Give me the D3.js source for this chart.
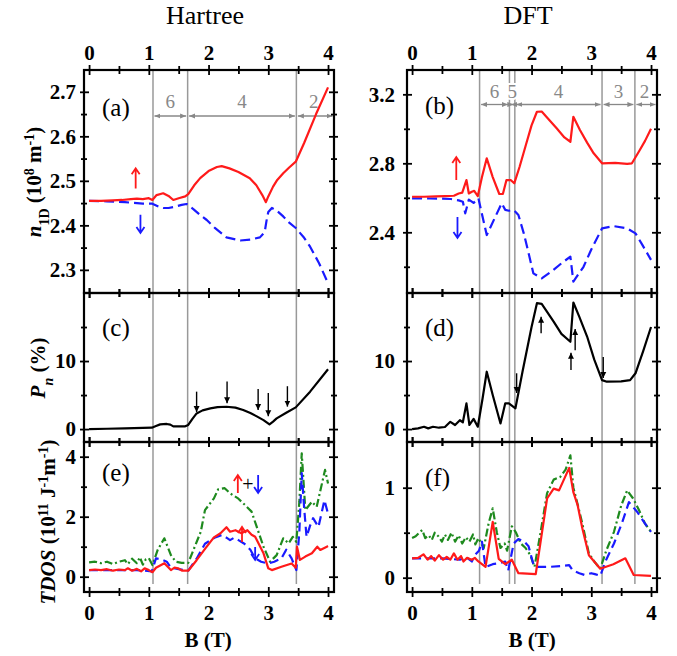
<!DOCTYPE html>
<html>
<head>
<meta charset="utf-8">
<script src="https://cdn.jsdelivr.net/npm/d3@7/dist/d3.min.js"></script>
<style>
  body { margin: 0; background: #fff; }
  text { font-family: "Liberation Serif", "Times New Roman", serif !important; }
</style>
</head>
<body>
<svg id="chart" width="677" height="656"></svg>
<script>
// ---- data (B in tesla, value) ----
const aUp = [[0,2.455],[0.2,2.455],[0.4,2.456],[0.55,2.457],[0.7,2.459],[0.8,2.46],[0.9,2.459],[1.0,2.461],[1.06,2.457],[1.13,2.468],[1.24,2.472],[1.33,2.466],[1.41,2.457],[1.5,2.461],[1.61,2.465],[1.66,2.47],[1.76,2.49],[1.86,2.506],[2.0,2.522],[2.14,2.531],[2.22,2.533],[2.35,2.528],[2.5,2.52],[2.69,2.506],[2.8,2.49],[2.9,2.468],[2.96,2.452],[3.0,2.465],[3.08,2.487],[3.15,2.502],[3.25,2.517],[3.35,2.53],[3.46,2.543],[3.6,2.585],[3.8,2.65],[4.0,2.71]];
const aDown = [[0,2.455],[0.3,2.454],[0.6,2.452],[0.9,2.449],[1.05,2.449],[1.15,2.443],[1.24,2.439],[1.33,2.439],[1.41,2.441],[1.55,2.446],[1.63,2.448],[1.75,2.436],[1.87,2.422],[1.97,2.412],[2.1,2.395],[2.3,2.373],[2.53,2.366],[2.7,2.368],[2.86,2.373],[2.94,2.385],[2.97,2.41],[3.0,2.43],[3.06,2.439],[3.15,2.432],[3.25,2.42],[3.35,2.406],[3.46,2.394],[3.6,2.372],[3.7,2.352],[3.85,2.315],[4.0,2.27]];
const cPol = [[0,0],[0.3,0.05],[0.6,0.1],[0.9,0.18],[1.05,0.2],[1.12,0.45],[1.19,0.69],[1.3,0.75],[1.36,0.65],[1.41,0.4],[1.5,0.4],[1.61,0.4],[1.66,0.6],[1.73,1.5],[1.8,2.3],[1.9,2.75],[2.03,3.04],[2.15,3.22],[2.3,3.28],[2.45,3.15],[2.58,2.8],[2.7,2.35],[2.8,1.9],[2.92,1.32],[3.02,0.69],[3.08,1.1],[3.14,1.57],[3.3,2.4],[3.46,3.19],[3.7,5.5],[4.0,8.8]];
const eUp = [[0,0.22],[0.1,0.24],[0.2,0.22],[0.3,0.25],[0.4,0.2],[0.5,0.24],[0.6,0.22],[0.65,0.28],[0.72,0.2],[0.8,0.26],[0.87,0.18],[0.93,0.28],[1.0,0.22],[1.06,0.15],[1.12,0.3],[1.26,0.45],[1.37,0.22],[1.43,0.3],[1.49,0.28],[1.56,0.2],[1.66,0.2],[1.8,0.55],[1.95,0.95],[2.09,1.31],[2.2,1.45],[2.3,1.65],[2.36,1.5],[2.45,1.55],[2.55,1.45],[2.65,1.55],[2.72,1.4],[2.78,1.33],[2.92,0.78],[3.0,0.28],[3.06,0.22],[3.22,0.33],[3.39,0.44],[3.46,0.3],[3.48,1.0],[3.53,0.56],[3.62,0.67],[3.73,0.78],[3.82,1.0],[3.87,0.89],[3.98,1.0],[4.0,1.02]];
const eDown = [[0,0.22],[0.4,0.22],[0.8,0.22],[1.05,0.18],[1.12,0.61],[1.2,0.58],[1.3,0.5],[1.37,0.3],[1.5,0.25],[1.66,0.2],[1.8,0.6],[1.94,1.1],[2.1,1.3],[2.22,1.39],[2.3,1.3],[2.36,1.22],[2.43,1.3],[2.5,1.22],[2.6,1.1],[2.7,0.9],[2.78,0.61],[2.88,0.5],[3.0,0.44],[3.1,0.5],[3.22,0.61],[3.3,0.9],[3.39,0.61],[3.47,0.22],[3.52,1.5],[3.56,3.45],[3.6,2.3],[3.64,1.33],[3.7,1.7],[3.75,1.95],[3.84,1.66],[3.94,2.55],[4.0,2.1]];
const eSum = [[0,0.48],[0.1,0.5],[0.2,0.45],[0.3,0.5],[0.4,0.42],[0.5,0.5],[0.6,0.55],[0.65,0.42],[0.72,0.6],[0.8,0.45],[0.85,0.65],[0.9,0.4],[0.95,0.58],[1.0,0.62],[1.06,0.39],[1.15,0.9],[1.26,1.28],[1.37,0.72],[1.45,0.5],[1.55,0.46],[1.66,0.46],[1.87,1.5],[1.94,2.22],[2.09,2.61],[2.16,2.91],[2.27,2.95],[2.36,2.78],[2.5,2.6],[2.61,2.39],[2.72,2.17],[2.8,1.7],[2.92,1.0],[3.03,0.5],[3.14,0.72],[3.25,1.28],[3.34,1.11],[3.41,1.33],[3.47,1.16],[3.52,2.5],[3.56,4.11],[3.62,2.22],[3.73,2.5],[3.81,2.33],[3.95,3.56],[4.0,3.11]];

const bUp = [[0,2.606],[0.2,2.606],[0.4,2.608],[0.55,2.61],[0.7,2.612],[0.78,2.625],[0.84,2.63],[0.91,2.703],[0.95,2.625],[1.0,2.635],[1.04,2.64],[1.1,2.61],[1.17,2.72],[1.25,2.829],[1.35,2.72],[1.46,2.622],[1.52,2.622],[1.58,2.703],[1.65,2.703],[1.71,2.684],[1.8,2.78],[1.9,2.9],[2.0,3.02],[2.09,3.099],[2.17,3.1],[2.3,3.05],[2.42,3.003],[2.55,2.95],[2.65,2.925],[2.7,3.07],[2.81,2.993],[2.93,2.92],[3.04,2.858],[3.18,2.8],[3.4,2.802],[3.6,2.797],[3.68,2.8],[3.8,2.87],[3.9,2.93],[4.0,3.0]];
const bDown = [[0,2.597],[0.3,2.596],[0.5,2.595],[0.65,2.593],[0.78,2.585],[0.85,2.577],[0.89,2.51],[0.95,2.59],[1.03,2.57],[1.11,2.597],[1.18,2.49],[1.25,2.384],[1.38,2.48],[1.5,2.568],[1.56,2.53],[1.62,2.525],[1.7,2.53],[1.78,2.5],[1.87,2.394],[1.95,2.28],[2.03,2.162],[2.17,2.133],[2.36,2.18],[2.5,2.22],[2.65,2.259],[2.7,2.114],[2.87,2.2],[3.0,2.3],[3.18,2.423],[3.37,2.436],[3.6,2.423],[3.74,2.394],[3.85,2.33],[4.0,2.24]];
const dPol = [[0,0],[0.1,0.1],[0.2,0.34],[0.27,0.1],[0.35,0.34],[0.45,0.2],[0.55,0.3],[0.64,1.07],[0.72,0.6],[0.8,1.3],[0.85,1.0],[0.91,3.77],[0.96,0.6],[1.03,1.5],[1.1,0.35],[1.18,4.5],[1.25,8.43],[1.35,5.0],[1.48,0.83],[1.56,3.78],[1.62,3.78],[1.73,3.04],[1.85,8.5],[2.0,15.0],[2.09,18.5],[2.17,18.4],[2.37,15.8],[2.5,14.0],[2.65,12.84],[2.7,18.6],[2.8,16.5],[2.93,13.6],[3.05,10.2],[3.18,7.2],[3.26,6.96],[3.5,7.0],[3.65,7.2],[3.74,8.2],[3.87,11.5],[4.0,15.0]];
const fUp = [[0,0.215],[0.1,0.22],[0.19,0.26],[0.26,0.2],[0.32,0.24],[0.38,0.19],[0.45,0.25],[0.52,0.2],[0.58,0.23],[0.64,0.2],[0.7,0.27],[0.76,0.2],[0.82,0.24],[0.86,0.18],[0.92,0.22],[1.0,0.2],[1.05,0.22],[1.11,0.18],[1.23,0.12],[1.35,0.62],[1.45,0.21],[1.56,0.15],[1.67,0.2],[1.78,0.05],[2.07,0.04],[2.26,0.88],[2.37,0.99],[2.46,0.97],[2.63,1.22],[2.7,0.95],[2.77,0.81],[2.85,0.55],[2.96,0.25],[3.15,0.1],[3.37,0.15],[3.57,0.215],[3.71,0.03],[4.0,0.02]];
const fDown = [[0,0.215],[0.5,0.215],[0.8,0.2],[0.9,0.23],[1.0,0.18],[1.05,0.25],[1.12,0.3],[1.17,0.4],[1.23,0.12],[1.35,0.15],[1.45,0.16],[1.56,0.18],[1.61,0.08],[1.7,0.38],[1.78,0.43],[1.88,0.4],[1.95,0.35],[2.03,0.15],[2.09,0.12],[2.3,0.12],[2.5,0.13],[2.63,0.14],[2.69,0.08],[2.8,0.05],[2.89,0.03],[3.0,0.05],[3.06,0.04],[3.15,0.02],[3.25,0.2],[3.38,0.38],[3.52,0.62],[3.63,0.84],[3.77,0.73],[3.9,0.6],[4.0,0.51]];
const fSum = [[0,0.44],[0.06,0.46],[0.12,0.5],[0.17,0.53],[0.22,0.44],[0.28,0.47],[0.33,0.42],[0.38,0.5],[0.44,0.46],[0.5,0.4],[0.55,0.48],[0.6,0.42],[0.66,0.5],[0.72,0.4],[0.78,0.47],[0.84,0.38],[0.9,0.45],[0.96,0.4],[1.02,0.48],[1.06,0.37],[1.11,0.44],[1.2,0.33],[1.28,0.6],[1.35,0.77],[1.42,0.5],[1.48,0.33],[1.55,0.38],[1.59,0.3],[1.67,0.57],[1.74,0.5],[1.82,0.38],[1.9,0.33],[1.98,0.25],[2.05,0.12],[2.15,0.5],[2.26,0.94],[2.37,1.09],[2.48,1.12],[2.57,1.2],[2.65,1.36],[2.7,1.0],[2.77,0.82],[2.85,0.6],[2.96,0.27],[3.05,0.18],[3.15,0.1],[3.25,0.3],[3.38,0.51],[3.5,0.8],[3.6,0.97],[3.7,0.88],[3.8,0.75],[3.9,0.6],[4.0,0.51]];

// filling-factor boundaries and labels
const hartreeEdges = [1.07, 1.65, 3.47];
const hartreeFill = ["6", "4", "2"];
const dftEdges = [1.13, 1.63, 1.72, 3.18, 3.73];
const dftFill = ["6", "5", "4", "3", "2"];

// ticks
const xTicks = [0, 1, 2, 3, 4];
const xMinor = [0.5, 1.5, 2.5, 3.5];
const aTicks = [2.3, 2.4, 2.5, 2.6, 2.7], aMinor = [2.35, 2.45, 2.55, 2.65];
const bTicks = [2.4, 2.8, 3.2], bMinor = [2.2, 2.6, 3.0];
const pTicks = [0, 10], pMinor = [5, 15];
const eTicks = [0, 2, 4], eMinor = [1, 3];
const fTicks = [0, 1], fMinor = [0.5];

// annotation arrows: [B, tail, tip]
const cArrows = [[1.8,5.5,2.5],[2.31,7.0,3.8],[2.83,5.9,2.8],[3.0,5.3,1.9],[3.32,6.3,3.3]];
const dArrows = [[1.75,8.2,5.3],[2.16,14.1,16.5],[2.66,8.7,11.2],[2.73,11.6,14.7],[3.2,10.6,7.5]];

const RED = "#ff1a1a", BLUE = "#1a1aff", GREEN = "#1e8a1e", GREY = "#999";
const SERIF = "'Liberation Serif', 'Times New Roman', serif";

const svg = d3.select("#chart");
const cols = [[84, 334], [407, 657]];
const rows = [[70, 293], [293, 442], [442, 592]];
const xs = cols.map(r => d3.scaleLinear().domain([-0.085, 4.1]).range(r));

const panels = [
  { c: 0, r: 0, dom: [2.248, 2.749], ticks: aTicks, minor: aMinor, fmt: d3.format(".1f"), letter: "(a)", ly: 116,
    series: [{ d: aDown, col: BLUE, dash: "10,5" }, { d: aUp, col: RED }] },
  { c: 1, r: 0, dom: [2.048, 3.341], ticks: bTicks, minor: bMinor, fmt: d3.format(".1f"), letter: "(b)", ly: 114,
    series: [{ d: bDown, col: BLUE, dash: "10,5" }, { d: bUp, col: RED }] },
  { c: 0, r: 1, dom: [-1.9, 20], ticks: pTicks, minor: pMinor, fmt: d3.format("d"), letter: "(c)", ly: 336,
    series: [{ d: cPol, col: "#000" }] },
  { c: 1, r: 1, dom: [-1.9, 20], ticks: pTicks, minor: pMinor, fmt: d3.format("d"), letter: "(d)", ly: 336,
    series: [{ d: dPol, col: "#000" }] },
  { c: 0, r: 2, dom: [-0.51, 4.49], ticks: eTicks, minor: eMinor, fmt: d3.format("d"), letter: "(e)", ly: 481,
    series: [{ d: eSum, col: GREEN, dash: "8,3,2,3" }, { d: eDown, col: BLUE, dash: "9,5" }, { d: eUp, col: RED }] },
  { c: 1, r: 2, dom: [-0.159, 1.508], ticks: fTicks, minor: fMinor, fmt: d3.format("d"), letter: "(f)", ly: 486,
    series: [{ d: fSum, col: GREEN, dash: "8,3,2,3" }, { d: fDown, col: BLUE, dash: "9,5" }, { d: fUp, col: RED }] }
];

const defs = svg.append("defs");
defs.append("marker").attr("id", "gh").attr("viewBox", "0 0 6 6").attr("refX", 6).attr("refY", 3)
  .attr("markerWidth", 6).attr("markerHeight", 6).attr("markerUnits", "userSpaceOnUse")
  .attr("orient", "auto-start-reverse")
  .append("path").attr("d", "M0,0.5 L6,3 L0,5.5 Z").attr("fill", "#888");
defs.append("marker").attr("id", "bh").attr("viewBox", "0 0 6 8").attr("refX", 6).attr("refY", 4)
  .attr("markerWidth", 6).attr("markerHeight", 8).attr("markerUnits", "userSpaceOnUse")
  .attr("orient", "auto")
  .append("path").attr("d", "M0,1 L6,4 L0,7 Z").attr("fill", "#000");

// vertical boundary lines
[hartreeEdges, dftEdges].forEach((edges, c) => {
  svg.append("g").selectAll("line").data(edges).join("line")
    .attr("x1", d => xs[c](d)).attr("x2", d => xs[c](d))
    .attr("y1", rows[0][0]).attr("y2", 584)
    .attr("stroke", GREY).attr("stroke-width", 1.5);
});

// filling factor arrows + labels
[[hartreeEdges, hartreeFill, 116, 108], [dftEdges, dftFill, 104.5, 98]].forEach(([edges, labels, yl, yt], c) => {
  const x = xs[c];
  const stops = edges.concat([4.1]);
  const g = svg.append("g");
  labels.forEach((lab, i) => {
    const x0 = x(stops[i]) + 1.5, x1 = x(stops[i + 1]) - 1.5;
    g.append("line").attr("x1", x0).attr("x2", x1).attr("y1", yl).attr("y2", yl)
      .attr("stroke", "#888").attr("stroke-width", 1.3)
      .attr("marker-start", "url(#gh)").attr("marker-end", "url(#gh)");
    const cx = (x(stops[i]) + x(Math.min(stops[i + 1], 4.05))) / 2;
    g.append("text").attr("x", cx).attr("y", yt).attr("text-anchor", "middle")
      .attr("font-size", 19).attr("fill", "#888")
      .attr("stroke", "#fff").attr("stroke-width", 4).attr("paint-order", "stroke")
      .text(lab);
  });
});

panels.forEach(p => {
  const x = xs[p.c];
  const [y0, y1] = rows[p.r];
  const y = d3.scaleLinear().domain(p.dom).range([y1, y0]);
  const g = svg.append("g");

  const line = d3.line().x(d => x(d[0])).y(d => y(d[1]));
  p.series.forEach(s => {
    g.append("path").datum(s.d).attr("d", line).attr("fill", "none")
      .attr("stroke", s.col).attr("stroke-width", 2.2)
      .attr("stroke-dasharray", s.dash || null).attr("stroke-linejoin", "round");
  });

  // ticks: left with labels, right without, top/bottom crossing the frame
  const yAxisL = g.append("g").attr("transform", `translate(${cols[p.c][0]},0)`)
    .call(d3.axisLeft(y).tickValues(p.ticks).tickFormat(p.fmt).tickSize(4).tickPadding(p.c === 0 ? 4 : 8));
  yAxisL.selectAll(".tick line").attr("x1", 5);
  yAxisL.append("g").call(d3.axisLeft(y).tickValues(p.minor).tickFormat("").tickSize(3))
    .selectAll(".tick line").attr("x1", 3);
  const yAxisR = g.append("g").attr("transform", `translate(${cols[p.c][1]},0)`)
    .call(d3.axisRight(y).tickValues(p.ticks).tickFormat("").tickSize(4));
  yAxisR.selectAll(".tick line").attr("x1", -5);
  yAxisR.append("g").call(d3.axisRight(y).tickValues(p.minor).tickFormat("").tickSize(3))
    .selectAll(".tick line").attr("x1", -3);

  const xt = g.append("g").attr("transform", `translate(0,${y0})`)
    .call(d3.axisTop(x).tickValues(xTicks).tickFormat(p.r === 0 ? d3.format("d") : "").tickSize(5).tickPadding(5));
  xt.selectAll(".tick line").attr("y1", 5);
  xt.append("g").call(d3.axisTop(x).tickValues(xMinor).tickFormat("").tickSize(4))
    .selectAll(".tick line").attr("y1", 4);
  const xb = g.append("g").attr("transform", `translate(0,${y1})`)
    .call(d3.axisBottom(x).tickValues(xTicks).tickFormat(p.r === 2 ? d3.format("d") : "").tickSize(5).tickPadding(8));
  xb.selectAll(".tick line").attr("y1", -5);
  xb.append("g").call(d3.axisBottom(x).tickValues(xMinor).tickFormat("").tickSize(4))
    .selectAll(".tick line").attr("y1", -4);

  g.selectAll(".domain").remove();
  g.selectAll(".tick line").attr("stroke", "#000").attr("stroke-width", 1.8);
  g.selectAll(".tick text").style("font-family", SERIF).attr("font-size", 21)
    .attr("font-weight", "bold").attr("fill", "#000");

  g.append("rect").attr("x", cols[p.c][0]).attr("y", y0)
    .attr("width", cols[p.c][1] - cols[p.c][0]).attr("height", y1 - y0)
    .attr("fill", "none").attr("stroke", "#000").attr("stroke-width", 2.2);

  g.append("text").attr("x", cols[p.c][0] + 18).attr("y", p.ly)
    .attr("font-size", 25).text(p.letter);

  p.y = y;
});

// black arrows in (c) and (d)
[[cArrows, 0, panels[2]], [dArrows, 1, panels[3]]].forEach(([arr, c, p]) => {
  svg.append("g").selectAll("line").data(arr).join("line")
    .attr("x1", d => xs[c](d[0])).attr("x2", d => xs[c](d[0]))
    .attr("y1", d => p.y(d[1])).attr("y2", d => p.y(d[2]))
    .attr("stroke", "#000").attr("stroke-width", 1.4)
    .attr("marker-end", "url(#bh)");
});

// open coloured arrows
function openArrow(x, yTail, yTip, col) {
  const dir = yTip < yTail ? 1 : -1;
  svg.append("path")
    .attr("d", `M${x},${yTail} L${x},${yTip} M${x - 4},${yTip + dir * 6} L${x},${yTip} L${x + 4},${yTip + dir * 6}`)
    .attr("fill", "none").attr("stroke", col).attr("stroke-width", 1.8);
}
const ya = panels[0].y, yb = panels[1].y, ye = panels[4].y;
openArrow(xs[0](0.78), ya(2.483), ya(2.528), RED);
openArrow(xs[0](0.86), ya(2.424), ya(2.383), BLUE);
openArrow(xs[1](0.74), yb(2.703), yb(2.836), RED);
openArrow(xs[1](0.76), yb(2.489), yb(2.367), BLUE);
openArrow(xs[0](2.49), ye(2.79), ye(3.39), RED);
openArrow(xs[0](2.83), ye(3.39), ye(2.79), BLUE);
svg.append("text").attr("x", xs[0](2.66)).attr("y", ye(2.85)).attr("text-anchor", "middle")
  .attr("font-size", 20).text("+");
openArrow(xs[0](2.56), ye(1.16), ye(1.66), RED);
openArrow(xs[0](2.78), ye(0.99), ye(0.56), BLUE);

// titles
svg.append("text").attr("x", 205).attr("y", 24).attr("text-anchor", "middle").attr("font-size", 26).text("Hartree");
svg.append("text").attr("x", 528).attr("y", 24).attr("text-anchor", "middle").attr("font-size", 26).text("DFT");
[208, 532].forEach(cx => {
  svg.append("text").attr("x", cx).attr("y", 647).attr("text-anchor", "middle")
    .attr("font-size", 21).attr("font-weight", "bold").text("B (T)");
});

// y-axis titles
function yTitle(x, y, parts) {
  const t = svg.append("text").attr("transform", `translate(${x},${y}) rotate(-90)`)
    .attr("text-anchor", "middle").attr("font-size", 21).attr("font-weight", "bold");
  parts.forEach(([s, style]) => {
    const ts = t.append("tspan").text(s);
    if (style === "i") ts.attr("font-style", "italic");
    if (style === "sub") ts.attr("font-size", 14).attr("baseline-shift", "sub").attr("font-style", "normal");
    if (style === "isub") ts.attr("font-size", 14).attr("baseline-shift", "sub").attr("font-style", "italic");
    if (style === "sup") ts.attr("font-size", 14).attr("baseline-shift", "super");
  });
}
yTitle(41, 182, [["n", "i"], ["1D", "sub"], [" (10", ""], ["8", "sup"], [" m", ""], ["-1", "sup"], [")", ""]]);
yTitle(45, 368, [["P", "i"], ["n", "isub"], [" (%)", ""]]);
yTitle(55, 522, [["TDOS", "i"], [" (10", ""], ["11", "sup"], [" J", ""], ["-1", "sup"], ["m", ""], ["-1", "sup"], [")", ""]]);
</script>
</body>
</html>
